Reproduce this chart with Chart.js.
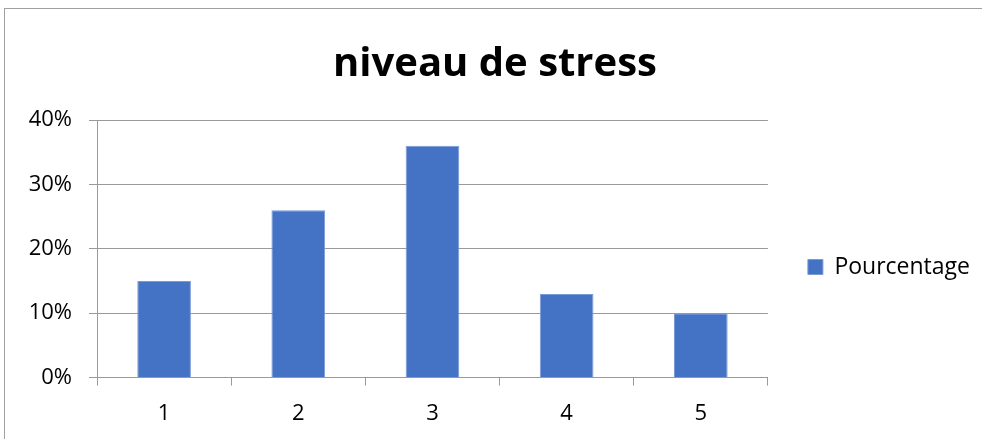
<!DOCTYPE html>
<html>
<head>
<meta charset="utf-8">
<script src="https://cdn.jsdelivr.net/npm/chart.js@4"></script>
<style>
  body { margin: 0; background: #fff; }
  #frame { position: absolute; left: 4px; top: 8px; width: 1000px; height: 460px; border: 1px solid #a0a0a0; }
  #wrap { position: absolute; left: 0; top: 0; width: 982px; height: 439px; }
</style>
</head>
<body>
<div id="frame"></div>
<div id="wrap"><canvas id="myChart"></canvas></div>
<script>
const categories = ['1', '2', '3', '4', '5']
const pourcentage = [15, 26, 36, 13, 10]
const yTicks = [0, 10, 20, 30, 40]

const gridColor = '#9a9a9a'
const font = 'Open Sans'

const data = {
	labels: categories,
	datasets: [{
		label: 'Pourcentage',
		data: pourcentage,
		backgroundColor: '#4472C4',
		borderColor: '#7a9ad6',
		borderWidth: 1,
		categoryPercentage: 0.4,
		barPercentage: 1.0,
	}]
}

const ctx = document.getElementById('myChart');
var chart = new Chart(ctx, {
	type: 'bar',
	data: data,
	options: {
		responsive: true,
		maintainAspectRatio: false,
		animation: false,
		layout: { padding: { left: 10, right: 2, top: 0, bottom: -3 } },
		plugins: {
			title: {
				display: true,
				text: 'niveau de stress',
				color: '#000',
				font: { family: font, size: 40, weight: 'bold' },
				padding: { top: 41, bottom: 31 }
			},
			legend: {
				position: 'right',
				fullSize: false,
				title: { display: true, text: '', font: { size: 12 }, padding: 11 },
				labels: {
					color: '#000',
					boxWidth: 15,
					boxHeight: 15,
					padding: 40,
					font: { family: font, size: 23 }
				}
			},
			tooltip: { enabled: false }
		},
		scales: {
			x: {
				grid: { drawOnChartArea: false, drawTicks: true, tickLength: 8, color: gridColor },
				border: { color: gridColor },
				ticks: { color: '#000', padding: 15, font: { family: font, size: 22 } }
			},
			y: {
				min: 0,
				max: 40,
				afterFit: function (s) { s.width = 87 },
				afterBuildTicks: function (s) { s.ticks = yTicks.map(v => ({ value: v })) },
				grid: { color: gridColor, tickLength: 8 },
				border: { color: gridColor },
				ticks: {
					color: '#000',
					padding: 17,
					font: { family: font, size: 22 },
					callback: v => v + '%'
				}
			}
		}
	}
})
</script>
</body>
</html>
